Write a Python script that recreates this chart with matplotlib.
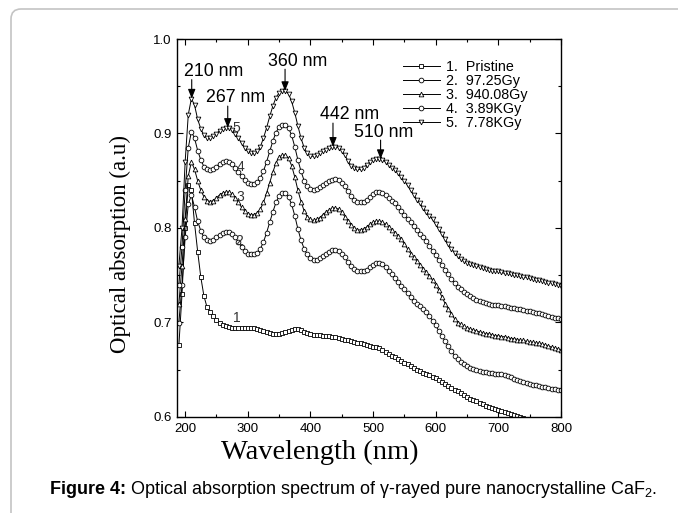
import numpy as np
import matplotlib
matplotlib.use('Agg')
import matplotlib.pyplot as plt
from matplotlib.patches import FancyBboxPatch
from matplotlib.transforms import IdentityTransform
from matplotlib.ticker import MultipleLocator

plt.rcParams['font.family'] = 'Liberation Sans'
plt.rcParams['mathtext.fontset'] = 'custom'
plt.rcParams['mathtext.rm'] = 'Liberation Sans'
plt.rcParams['mathtext.default'] = 'regular'

# wavelength grid (nm), one reading every 5 nm
wl = list(range(190, 805, 5))

p1 = [0.676, 0.730, 0.800, 0.845, 0.840, 0.805, 0.775, 0.748, 0.728, 0.716,
      0.711, 0.707, 0.703, 0.700, 0.697, 0.696, 0.695, 0.694, 0.694, 0.694,
      0.694, 0.694, 0.694, 0.694, 0.694, 0.693, 0.692, 0.691, 0.690, 0.689,
      0.688, 0.688, 0.688, 0.689, 0.690, 0.691, 0.692, 0.693, 0.693, 0.692,
      0.690, 0.689, 0.688, 0.687, 0.687, 0.687, 0.686, 0.686, 0.686, 0.685,
      0.685, 0.684, 0.683, 0.682, 0.681, 0.680, 0.679, 0.678, 0.678, 0.677,
      0.676, 0.675, 0.674, 0.674, 0.673, 0.671, 0.669, 0.667, 0.665, 0.663,
      0.661, 0.659, 0.657, 0.656, 0.654, 0.652, 0.650, 0.649, 0.647, 0.646,
      0.644, 0.642, 0.641, 0.639, 0.637, 0.635, 0.633, 0.631, 0.629, 0.627,
      0.625, 0.623, 0.621, 0.6195, 0.618, 0.6165, 0.615, 0.6135, 0.612, 0.6105,
      0.609, 0.608, 0.607, 0.606, 0.605, 0.604, 0.603, 0.602, 0.601, 0.600,
      0.599, 0.598, 0.597, 0.596, 0.595, 0.594, 0.593, 0.592, 0.591, 0.590,
      0.589, 0.588, 0.587]
p2 = [0.700, 0.740, 0.790, 0.825, 0.835, 0.822, 0.807, 0.797, 0.790, 0.787,
      0.786, 0.787, 0.790, 0.793, 0.795, 0.796, 0.796, 0.794, 0.790, 0.785,
      0.780, 0.776, 0.773, 0.772, 0.772, 0.774, 0.778, 0.785, 0.795, 0.806,
      0.817, 0.827, 0.834, 0.837, 0.837, 0.833, 0.825, 0.813, 0.799, 0.787,
      0.778, 0.772, 0.768, 0.766, 0.766, 0.768, 0.770, 0.773, 0.775, 0.777,
      0.777, 0.776, 0.773, 0.769, 0.764, 0.760, 0.757, 0.755, 0.754, 0.754,
      0.756, 0.759, 0.761, 0.763, 0.763, 0.762, 0.759, 0.755, 0.751, 0.747,
      0.743, 0.739, 0.735, 0.731, 0.727, 0.723, 0.720, 0.717, 0.714, 0.711,
      0.707, 0.702, 0.697, 0.691, 0.686, 0.680, 0.675, 0.670, 0.665, 0.661,
      0.658, 0.656, 0.654, 0.652, 0.651, 0.650, 0.649, 0.648, 0.648, 0.647,
      0.647, 0.646, 0.646, 0.645, 0.644, 0.643, 0.642, 0.640, 0.639, 0.638,
      0.637, 0.636, 0.635, 0.634, 0.634, 0.633, 0.632, 0.632, 0.631, 0.630,
      0.630, 0.629, 0.629]
p3 = [0.720, 0.760, 0.810, 0.855, 0.870, 0.862, 0.850, 0.840, 0.833, 0.829,
      0.828, 0.829, 0.832, 0.835, 0.837, 0.838, 0.838, 0.836, 0.832, 0.827,
      0.822, 0.818, 0.815, 0.814, 0.814, 0.816, 0.820, 0.827, 0.837, 0.848,
      0.859, 0.869, 0.875, 0.877, 0.877, 0.874, 0.866, 0.854, 0.840, 0.828,
      0.818, 0.812, 0.809, 0.808, 0.809, 0.811, 0.814, 0.817, 0.819, 0.821,
      0.821, 0.820, 0.817, 0.812, 0.807, 0.803, 0.800, 0.798, 0.798, 0.799,
      0.801, 0.804, 0.806, 0.807, 0.807, 0.806, 0.804, 0.801, 0.798, 0.795,
      0.792, 0.788, 0.783, 0.778, 0.773, 0.769, 0.765, 0.761, 0.757, 0.753,
      0.749, 0.745, 0.740, 0.734, 0.727, 0.720, 0.714, 0.709, 0.704, 0.700,
      0.698, 0.696, 0.694, 0.693, 0.692, 0.691, 0.690, 0.689, 0.688, 0.688,
      0.687, 0.686, 0.686, 0.685, 0.685, 0.684, 0.683, 0.683, 0.682, 0.681,
      0.681, 0.680, 0.679, 0.679, 0.678, 0.678, 0.677, 0.676, 0.675, 0.674,
      0.673, 0.672, 0.671]
p4 = [0.740, 0.780, 0.840, 0.885, 0.902, 0.895, 0.882, 0.872, 0.865, 0.862,
      0.861, 0.862, 0.865, 0.868, 0.870, 0.871, 0.870, 0.868, 0.864, 0.859,
      0.855, 0.851, 0.848, 0.847, 0.847, 0.849, 0.853, 0.860, 0.870, 0.881,
      0.892, 0.901, 0.907, 0.909, 0.909, 0.906, 0.898, 0.886, 0.872, 0.860,
      0.850, 0.844, 0.841, 0.840, 0.841, 0.843, 0.846, 0.848, 0.850, 0.851,
      0.852, 0.851, 0.848, 0.844, 0.839, 0.834, 0.830, 0.828, 0.827, 0.828,
      0.830, 0.833, 0.836, 0.838, 0.838, 0.837, 0.835, 0.832, 0.829, 0.826,
      0.822, 0.818, 0.814, 0.810, 0.806, 0.802, 0.798, 0.794, 0.790, 0.786,
      0.781, 0.776, 0.771, 0.766, 0.761, 0.756, 0.751, 0.746, 0.742, 0.738,
      0.735, 0.732, 0.730, 0.728, 0.726, 0.724, 0.723, 0.722, 0.721, 0.720,
      0.719, 0.718, 0.718, 0.717, 0.717, 0.716, 0.715, 0.715, 0.714, 0.714,
      0.713, 0.712, 0.712, 0.711, 0.710, 0.710, 0.709, 0.708, 0.707, 0.706,
      0.705, 0.705, 0.704]
p5 = [0.760, 0.800, 0.870, 0.920, 0.937, 0.930, 0.915, 0.905, 0.898, 0.895,
      0.895, 0.897, 0.900, 0.903, 0.905, 0.906, 0.906, 0.904, 0.900, 0.895,
      0.890, 0.885, 0.881, 0.879, 0.879, 0.881, 0.886, 0.895, 0.906, 0.918,
      0.929, 0.938, 0.943, 0.945, 0.945, 0.942, 0.934, 0.922, 0.908, 0.895,
      0.885, 0.879, 0.876, 0.876, 0.877, 0.879, 0.881, 0.883, 0.885, 0.886,
      0.886, 0.885, 0.882, 0.877, 0.871, 0.866, 0.863, 0.862, 0.862, 0.864,
      0.867, 0.870, 0.872, 0.873, 0.873, 0.872, 0.870, 0.867, 0.864, 0.861,
      0.858, 0.854, 0.850, 0.845, 0.840, 0.835, 0.830, 0.826, 0.821, 0.817,
      0.813, 0.809, 0.804, 0.799, 0.794, 0.788, 0.783, 0.778, 0.774, 0.770,
      0.767, 0.765, 0.763, 0.762, 0.761, 0.760, 0.759, 0.758, 0.757, 0.756,
      0.755, 0.755, 0.754, 0.753, 0.752, 0.752, 0.751, 0.750, 0.750, 0.749,
      0.748, 0.748, 0.747, 0.746, 0.745, 0.745, 0.744, 0.743, 0.742, 0.742,
      0.741, 0.740, 0.739]

series = [p1, p2, p3, p4, p5]
labels = ['1.  Pristine', '2.  97.25Gy', '3.  940.08Gy', '4.  3.89KGy', '5.  7.78KGy']
markers = ['s', 'o', '^', 'o', 'v']

# peak annotations: label, peak (nm, value), text position, arrow start value
peaks = ['210 nm', '267 nm', '360 nm', '442 nm', '510 nm']
peak_x = [210.5, 268, 359.5, 436, 512]
peak_y = [0.937, 0.906, 0.945, 0.886, 0.873]
txt_x = [246, 281, 379, 462, 517]
txt_y = [0.966, 0.938, 0.976, 0.920, 0.901]
arr_y = [0.957, 0.929, 0.968, 0.911, 0.893]

# curve number tags
tag_txt = ['1', '2', '3', '4', '5']
tag_x = [283, 287, 288, 288, 281]
tag_y = [0.705, 0.786, 0.833, 0.865, 0.906]

fig = plt.figure(figsize=(6.78, 5.13), dpi=100)
fig.add_artist(FancyBboxPatch((11, -30), 720, 513 - 9 + 30, boxstyle='round,pad=0,rounding_size=10',
                              transform=IdentityTransform(), fc='none', ec='#c4c4c4', lw=1.2))
ax = fig.add_axes([177/678, 1 - 417/513, 384/678, 378/513])

for y, mk, lb in zip(series, markers, labels):
    ax.plot(wl, y, color='k', lw=0.7, marker=mk, ms=3.4, mfc='white', mec='k', mew=0.6, label=lb)

for t, px, py, tx, ty, ay in zip(peaks, peak_x, peak_y, txt_x, txt_y, arr_y):
    ax.text(tx, ty, t, ha='center', va='center', fontsize=12.8)
    ax.annotate('', xy=(px, py), xytext=(px, ay),
                arrowprops=dict(arrowstyle='-|>,head_length=0.55,head_width=0.22', color='k',
                                lw=0.8, shrinkA=0, shrinkB=0, mutation_scale=10))
for t, x, y in zip(tag_txt, tag_x, tag_y):
    ax.text(x, y, t, ha='center', va='center', fontsize=10, color='#333333')

ax.set_xlim(187, 800)
ax.set_ylim(0.6, 1.0)
ax.xaxis.set_major_locator(MultipleLocator(100))
ax.xaxis.set_minor_locator(MultipleLocator(50))
ax.yaxis.set_major_locator(MultipleLocator(0.1))
ax.yaxis.set_minor_locator(MultipleLocator(0.05))
ax.yaxis.set_major_formatter(plt.FormatStrFormatter('%.1f'))
ax.tick_params(which='both', direction='in', top=True, right=True, width=0.8, labelsize=9.5, pad=4)
ax.tick_params(which='major', length=4.5)
ax.tick_params(which='minor', length=2.5)
for s in ax.spines.values():
    s.set_linewidth(1.0)

ax.legend(loc='upper left', bbox_to_anchor=(0.588, 0.945), frameon=False, fontsize=10.3,
          handlelength=2.6, handletextpad=0.4, labelspacing=0.0, borderpad=0, borderaxespad=0,
          numpoints=1)

fig.text(120/678, 1 - 244/513, 'Optical absorption (a.u)', rotation=90, ha='center', va='center',
         fontsize=16.5, family='Liberation Serif')
fig.text(320/678, 1 - 452/513, 'Wavelength (nm)', ha='center', va='center', fontsize=20.5,
         family='Liberation Serif')

# caption: bold prefix followed by normal text
r = fig.canvas.get_renderer()
cap_y = 1 - 494/513
cap1 = fig.text(50/678, cap_y, 'Figure 4:', ha='left', va='baseline', fontsize=13, weight='bold')
bb = cap1.get_window_extent(renderer=r)
fig.text((bb.x1 + 4)/678, cap_y,
         'Optical absorption spectrum of \u03b3-rayed pure nanocrystalline CaF$_{2}$.',
         ha='left', va='baseline', fontsize=13)

fig.savefig('out.png', dpi=100)
